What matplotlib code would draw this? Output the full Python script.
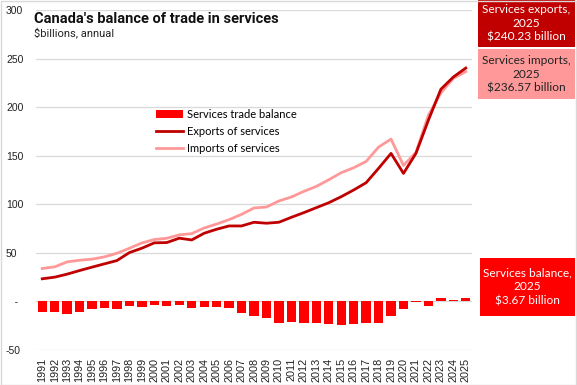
"""Canada's balance of trade in services, 1991-2025 (annual, $billions)."""
import matplotlib.pyplot as plt
from matplotlib.patches import Rectangle
import numpy as np

years = list(range(1991, 2026))

exports = [23.3, 25.0, 28.1, 31.8, 35.3, 38.7, 42.1, 50.3, 54.8, 60.3,
           60.6, 65.1, 63.3, 70.2, 74.3, 77.7, 77.7, 81.5, 80.5, 81.5,
           86.6, 91.4, 96.5, 101.6, 107.8, 114.7, 122.2, 137.0, 152.4, 131.8,
           152.4, 186.6, 218.4, 231.0, 240.23]

imports = [33.9, 35.6, 40.7, 42.4, 43.5, 45.9, 49.6, 54.7, 60.2, 63.7,
           65.0, 68.5, 69.8, 75.6, 79.7, 84.2, 89.6, 96.2, 97.2, 103.4,
           107.5, 113.3, 118.4, 125.2, 132.5, 137.6, 144.1, 158.9, 167.1, 140.0,
           153.4, 191.6, 214.6, 229.6, 236.57]

balance = [-10.6, -10.6, -12.6, -10.6, -8.2, -7.2, -7.5, -4.4, -5.4, -3.4,
           -4.4, -3.4, -6.5, -5.4, -5.4, -6.5, -11.9, -14.7, -16.7, -21.9,
           -20.9, -21.9, -21.9, -23.6, -24.7, -22.9, -21.9, -21.9, -14.7, -8.2,
           -1.0, -5.0, 3.8, 1.4, 3.67]

yticks = [-50, 0, 50, 100, 150, 200, 250, 300]
ytick_labels = ["-50", "   -", "50", "100", "150", "200", "250", "300"]

RED = "#FF0000"
DARK_RED = "#C00000"
PINK = "#FF9999"
GRID = "#D9D9D9"
TEXT_FONT = ["Lato", "DejaVu Sans"]
TICK_FONT = ["Liberation Sans", "DejaVu Sans"]

W, H = 577, 385
fig = plt.figure(figsize=(W / 100, H / 100), dpi=100)
ax = fig.add_axes([36 / W, 35 / H, 436 / W, 340 / H])

x = np.arange(len(years))
ax.bar(x, balance, width=0.75, color=RED, label="Services trade balance", zorder=2)
ax.plot(x, imports, color=PINK, lw=2.0, label="Imports of services", zorder=3)
ax.plot(x, exports, color=DARK_RED, lw=2.0, label="Exports of services", zorder=4)

ax.set_xlim(-0.5, len(years) - 0.5)
ax.set_ylim(-50, 300)
ax.set_yticks(yticks)
ax.set_yticklabels(ytick_labels, ha="left", family=TICK_FONT, fontsize=7.5, color="#222222")
ax.set_xticks(x)
ax.set_xticklabels([str(y) for y in years], rotation=90, family=TICK_FONT,
                   fontsize=7.8, color="#222222")
ax.tick_params(axis="y", length=0, pad=21.6)
ax.tick_params(axis="x", length=0, pad=5.5)
ax.yaxis.grid(True, color=GRID, lw=0.9)
ax.set_axisbelow(True)
for s in ax.spines.values():
    s.set_visible(False)

handles, labels = ax.get_legend_handles_labels()
order = [labels.index(l) for l in
         ["Services trade balance", "Exports of services", "Imports of services"]]
fig.legend([handles[i] for i in order], [labels[i] for i in order],
           loc="upper left", bbox_to_anchor=(156 / W, 1 - 109 / H),
           bbox_transform=fig.transFigure, frameon=False, borderpad=0,
           borderaxespad=0, handlelength=2.4, handletextpad=0.35,
           labelspacing=0.55, prop={"family": TEXT_FONT, "size": 8})

fig.text(34 / W, 1 - 19 / H, "Canada's balance of trade in services",
         family=["Roboto", "DejaVu Sans"], weight="bold", fontsize=10.5,
         va="center", ha="left", color="#111111")
fig.text(34 / W, 1 - 33 / H, "$billions, annual", family=["Roboto", "DejaVu Sans"],
         fontsize=8, va="center", ha="left", color="#222222")

# value call-out boxes on the right
boxes = [
    (478, 0, 47, DARK_RED, "white", f"Services exports,\n2025\n${exports[-1]:.2f} billion"),
    (478, 49, 50, PINK, "#222222", f"Services imports,\n2025\n${imports[-1]:.2f} billion"),
    (480, 258, 58, RED, "white", f"Services balance,\n2025\n${balance[-1]:.2f} billion"),
]
for bx, by, bh, fc, tc, txt in boxes:
    fig.add_artist(Rectangle((bx / W, 1 - (by + bh) / H), (575 - bx) / W, bh / H,
                             transform=fig.transFigure, facecolor=fc,
                             edgecolor="none"))
    fig.text((bx + 575) / 2 / W, 1 - (by + bh / 2) / H, txt, ha="center",
             va="center", color=tc, family=TEXT_FONT, fontsize=8.6, linespacing=1.3)

fig.add_artist(Rectangle((0.5 / W, 0.5 / H), (W - 1.5) / W, (H - 1.5) / H,
                         transform=fig.transFigure, facecolor="none",
                         edgecolor=GRID, lw=1.0))

fig.savefig("out.png", dpi=100)
